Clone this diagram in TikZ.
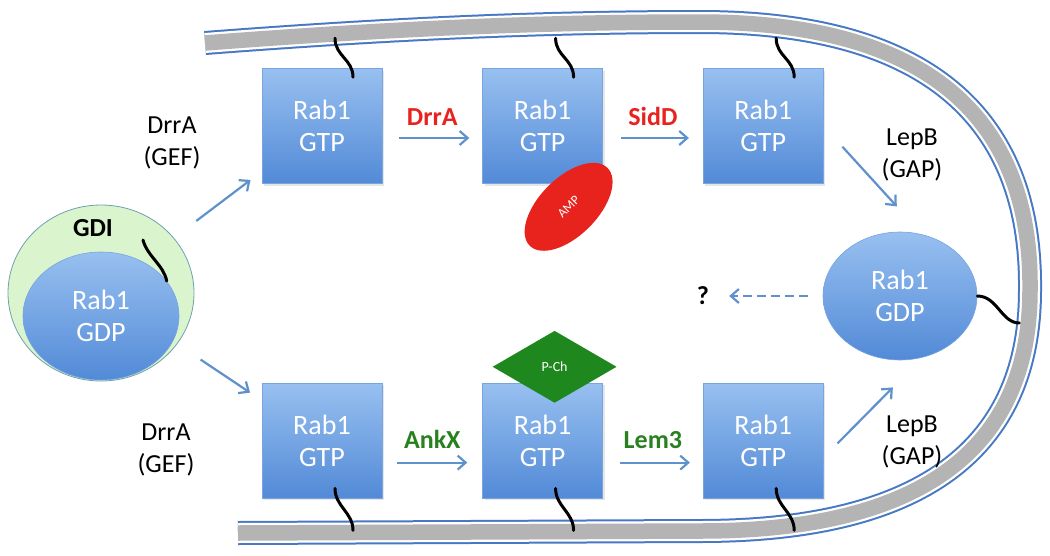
\documentclass[tikz,border=0pt]{standalone}
\usepackage{fontspec}
\setmainfont{Carlito}
\usepackage{tikz}
\usetikzlibrary{arrows.meta, shapes, shadows, positioning, calc}

\definecolor{rabtop}{RGB}{152,192,240}
\definecolor{rabbot}{RGB}{82,138,215}
\definecolor{rabedge}{RGB}{120,165,225}
\definecolor{arrowblue}{RGB}{95,145,205}
\definecolor{membblue}{RGB}{70,120,195}
\definecolor{membgray}{RGB}{180,180,180}
\definecolor{gdigreen}{RGB}{218,245,205}
\definecolor{gdiedge}{RGB}{110,160,175}
\definecolor{ampred}{RGB}{232,35,30}
\definecolor{pchgreen}{RGB}{30,135,30}
\definecolor{lblgreen}{RGB}{40,128,30}

\begin{document}
\begin{tikzpicture}
            [x=1pt, y=-1pt, >={Straight Barb[length=8pt,width=14pt]},
            rabbox/.style={rectangle, minimum width=120pt, minimum height=115pt,
              top color=rabtop, bottom color=rabbot, draw=rabedge, line width=0.6pt,
              drop shadow={opacity=0.2, shadow xshift=2pt, shadow yshift=-2pt},
              text=white, align=center, font=\fontsize{28}{32}\selectfont},
            rabgdp/.style={ellipse, inner sep=0pt, top color=rabtop, bottom color=rabbot,
              draw=rabedge, line width=0.6pt, text=white, align=center,
              font=\fontsize{28}{32}\selectfont},
            flow/.style={->, draw=arrowblue, line width=2.2pt},
            tether/.style={line width=3pt, line cap=round},
            lbl/.style={align=center, inner sep=0pt, font=\fontsize{26}{32}\selectfont},
            redlbl/.style={inner sep=0pt, text=ampred, font=\bfseries\fontsize{26}{30}\selectfont},
            greenlbl/.style={inner sep=0pt, text=lblgreen, font=\bfseries\fontsize{26}{30}\selectfont}]

            \useasboundingbox (0,0) rectangle (1050,555);

            % membrane
            \foreach \w/\col in {24/membblue, 20/white, 15.5/membgray}
              \draw[line width=\w pt, draw=\col] (205,43) .. controls (400,28) and (550,22) .. (700,22)
                .. controls (930,22) and (1032,120) .. (1030,290)
                .. controls (1030,450) and (920,531) .. (700,531) -- (238,533);

            % GDI complex
            \node[ellipse, minimum width=186pt, minimum height=176pt, fill=gdigreen,
              draw=gdiedge, line width=0.8pt] (gdi) at (101,293) {};
            \node[rabgdp, minimum width=156pt, minimum height=128pt] (gdpin) at (101,316) {Rab1\\GDP};
            \node[font=\bfseries\fontsize{26}{30}\selectfont, inner sep=0pt] (gdilbl) at (93,228) {GDI};
            \coordinate (gdiknot) at (143,240);
            \draw[tether] (gdiknot) .. controls +(4,16) and +(-3,-16) .. (gdpin.28);

            % Rab1 GTP on the membrane
            \node[rabbox] (gtpA) at (322,126) {Rab1\\GTP};
            \node[rabbox] (gtpB) [right=100pt of gtpA] {Rab1\\GTP};
            \node[rabbox] (gtpC) [right=100pt of gtpB] {Rab1\\GTP};
            \node[rabbox] (gtpD) [below=199pt of gtpA] {Rab1\\GTP};
            \node[rabbox] (gtpE) [right=100pt of gtpD] {Rab1\\GTP};
            \node[rabbox] (gtpF) [right=100pt of gtpE] {Rab1\\GTP};

            \node[ellipse, fill=ampred, inner sep=0pt, minimum width=110pt, minimum height=58pt, rotate=45,
              text=white, font=\fontsize{13}{15}\selectfont] (amp) at ($(gtpB.south)+(26,23)$) {AMP};
            \node[diamond, aspect=1.72, inner sep=0pt, minimum width=124pt, minimum height=72pt,
              fill=pchgreen, text=white, font=\fontsize{14}{16}\selectfont] (pch) at ($(gtpE.north)+(12,-16)$) {P-Ch};

            \node[rabgdp, minimum width=154pt, minimum height=128pt] (gdp) at (900,296) {Rab1\\GDP};
            \node[font=\bfseries\fontsize{26}{30}\selectfont, inner sep=0pt] (qmark) at (703,296) {?};

            % anchors
            \foreach \b in {gtpA, gtpB, gtpC}
              \draw[tether] ($(\b.north)+(13,-30)$) .. controls +(0,18) and +(0,-18) .. ($(\b.north)+(31,9)$);
            \foreach \b in {gtpD, gtpE, gtpF}
              \draw[tether] ($(\b.south)+(13,-10)$) .. controls +(0,18) and +(0,-18) .. ($(\b.south)+(31,32)$);
            \draw[tether] (gdp.east) .. controls +(20,0) and +(-18,0) .. ($(gdp.east)+(42,27)$);

            % reactions
            \draw[flow, shorten <=28pt, shorten >=14pt] (gdi) -- (gtpA);
            \draw[flow, shorten <=28pt, shorten >=14pt] (gdi) -- (gtpD);
            \draw[flow, shorten <=17pt, shorten >=13pt] ([yshift=-12pt]gtpA.east) -- ([yshift=-12pt]gtpB.west)
              node[midway, above=11pt, redlbl] {DrrA};
            \draw[flow, shorten <=18pt, shorten >=14pt] ([yshift=-12pt]gtpB.east) -- ([yshift=-12pt]gtpC.west)
              node[midway, above=11pt, redlbl] {SidD};
            \draw[flow, shorten <=15pt, shorten >=15pt] ([yshift=-22pt]gtpD.east) -- ([yshift=-22pt]gtpE.west)
              node[midway, above=13pt, greenlbl] {AnkX};
            \draw[flow, shorten <=17pt, shorten >=13pt] ([yshift=-22pt]gtpE.east) -- ([yshift=-22pt]gtpF.west)
              node[midway, above=13pt, greenlbl] {Lem3};
            \draw[flow, shorten <=28pt, shorten >=38pt] (gtpC.east) -- (gdp.70);
            \draw[flow, shorten <=20pt, shorten >=42pt] ([yshift=-17pt]gtpF.east) -- (gdp.-70);
            \draw[flow, dash pattern=on 9pt off 5pt, shorten <=15pt, shorten >=20pt] (gdp) -- (qmark);

            \node[lbl] (gefA) at (172,143) {DrrA\\(GEF)};
            \node[lbl] (gefB) at (166,450) {DrrA\\(GEF)};
            \node[lbl] (gapA) at (912,155) {LepB\\(GAP)};
            \node[lbl] (gapB) at (912,442) {LepB\\(GAP)};
        \end{tikzpicture}
\end{document}
